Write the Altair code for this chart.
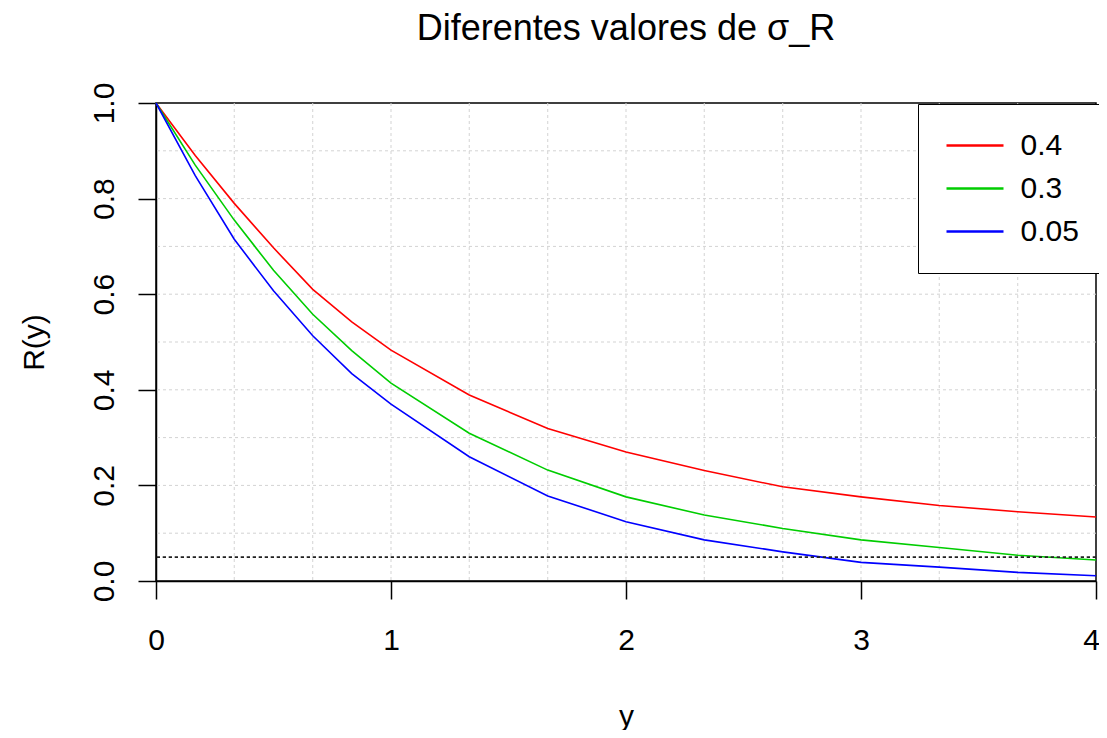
import altair as alt
import pandas as pd

# ---- data ----
y_vals = [0, 0.167, 0.333, 0.5, 0.667, 0.833, 1.0, 1.333, 1.667, 2.0, 2.333, 2.667, 3.0, 3.333, 3.667, 4.0]
r_sigma_04 = [1.0, 0.890, 0.790, 0.697, 0.610, 0.542, 0.483, 0.389, 0.319, 0.270, 0.231, 0.197, 0.176, 0.158, 0.145, 0.134]
r_sigma_03 = [1.0, 0.870, 0.755, 0.650, 0.558, 0.482, 0.414, 0.309, 0.232, 0.176, 0.138, 0.110, 0.086, 0.070, 0.054, 0.044]
r_sigma_005 = [1.0, 0.848, 0.715, 0.607, 0.513, 0.434, 0.370, 0.260, 0.178, 0.124, 0.086, 0.061, 0.039, 0.029, 0.018, 0.011]
series_labels = ["0.4", "0.3", "0.05"]
series_colors = ["#FF0000", "#00CD00", "#0000FF"]

x_ticks = [0, 1, 2, 3, 4]
y_ticks = [0.0, 0.2, 0.4, 0.6, 0.8, 1.0]
grid_x = [0.333, 0.667, 1.0, 1.333, 1.667, 2.0, 2.333, 2.667, 3.0, 3.333, 3.667]
grid_y = [0.1, 0.2, 0.3, 0.4, 0.5, 0.6, 0.7, 0.8, 0.9]
threshold = [0.05]

FONT = "Liberation Sans"

rows = []
for lab, vals in zip(series_labels, [r_sigma_04, r_sigma_03, r_sigma_005]):
    for xv, rv in zip(y_vals, vals):
        rows.append({"yv": xv, "R": rv, "sigma": lab})
df = pd.DataFrame(rows)

x_scale = alt.Scale(domain=[0, 4], nice=False, zero=False)
y_scale = alt.Scale(domain=[0, 1], nice=False, zero=False)

x_axis = alt.Axis(
    values=x_ticks, format="d", labelAngle=0, labelFlush=False,
    labelBaseline="top", labelAlign="center", labelPadding=26,
    labelOffset={"condition": {"test": "datum.value === 4", "value": -5}, "value": 0},
    tickSize=18, tickWidth=1.5, tickColor="black",
    domainColor="black", domainWidth=1.5,
    labelFontSize=30, labelFont=FONT, labelColor="black", grid=False,
    title="y", titleFontSize=30, titleFont=FONT, titleFontWeight="normal",
    titleColor="black", titleY=144, titleX=470, titleAlign="center",
    titleBaseline="alphabetic",
)
y_axis = alt.Axis(
    values=y_ticks, format=".1f", labelAngle=270, labelAlign="center",
    labelBaseline="alphabetic", labelPadding=25, labelFlush=False,
    tickSize=18, tickWidth=1.5, tickColor="black",
    domainColor="black", domainWidth=1.5,
    labelFontSize=30, labelFont=FONT, labelColor="black", grid=False,
    title="R(y)", titleFontSize=30, titleFont=FONT, titleFontWeight="normal",
    titleColor="black", titleAngle=270, titleX=-113, titleY=239,
    titleAlign="center", titleBaseline="alphabetic",
)

vgrid = alt.Chart(pd.DataFrame({"yv": grid_x})).mark_rule(
    color="#D3D3D3", strokeDash=[3, 3], strokeWidth=1
).encode(x=alt.X("yv:Q", scale=x_scale, axis=x_axis))

hgrid = alt.Chart(pd.DataFrame({"R": grid_y})).mark_rule(
    color="#D3D3D3", strokeDash=[3, 3], strokeWidth=1
).encode(y=alt.Y("R:Q", scale=y_scale, axis=y_axis))

lines = alt.Chart(df).mark_line(strokeWidth=1.6).encode(
    x=alt.X("yv:Q", scale=x_scale, axis=x_axis),
    y=alt.Y("R:Q", scale=y_scale, axis=y_axis),
    color=alt.Color(
        "sigma:N",
        sort=series_labels,
        scale=alt.Scale(domain=series_labels, range=series_colors),
        legend=alt.Legend(
            title=None, orient="none", legendX=762, legendY=1,
            symbolType="stroke", symbolSize=3249, symbolStrokeWidth=2.5,
            labelFontSize=30, labelFont=FONT, labelColor="black",
            padding=20, clipHeight=43, rowPadding=0,
            symbolOffset=7, labelOffset=15.5,
            strokeColor="black", fillColor="white",
        ),
    ),
)

hline = alt.Chart(pd.DataFrame({"R": threshold})).mark_rule(
    color="#222222", strokeDash=[3.3, 2.7], strokeWidth=1.6
).encode(y=alt.Y("R:Q", scale=y_scale, axis=y_axis))

chart = alt.layer(vgrid, hgrid, lines, hline).properties(
    width=940,
    height=478,
    title=alt.Title(
        "Diferentes valores de σ_R", fontSize=36, font=FONT, fontWeight="normal",
        color="black", anchor="middle", frame="group", offset=6,
        baseline="alphabetic",
    ),
    autosize=alt.AutoSizeParams(type="none"),
    padding={"left": 148, "top": 95, "right": 3, "bottom": 149},
    background="white",
).configure_view(stroke="black", strokeWidth=1.5)

chart.save("out.html", embed_options={"renderer": "svg", "actions": False})
